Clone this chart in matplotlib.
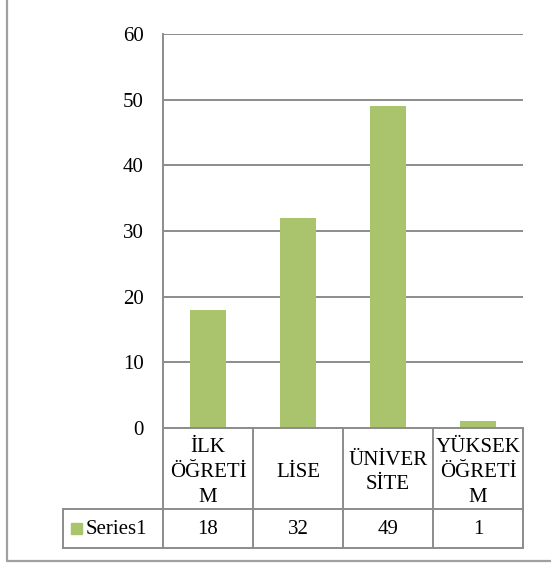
import matplotlib
matplotlib.use("Agg")
import matplotlib.pyplot as plt
from matplotlib.patches import Rectangle

categories = ["İLK\nÖĞRETİ\nM", "LİSE", "ÜNİVER\nSİTE", "YÜKSEK\nÖĞRETİ\nM"]
values = [18, 32, 49, 1]
series_name = "Series1"
yticks = [0, 10, 20, 30, 40, 50, 60]

W, H = 551, 564
BAR = "#A9C46C"
GRID = "#8C8C8C"
FONT = "Liberation Serif"
FS = 15

plt.rcParams['font.family'] = [FONT, 'DejaVu Serif']

fig = plt.figure(figsize=(W / 100, H / 100), dpi=100)

# plot area in pixels
px_l, px_r, px_t, px_b = 163, 523, 34, 428
ax = fig.add_axes([px_l / W, (H - px_b) / H, (px_r - px_l) / W, (px_b - px_t) / H])
n = len(categories)
ax.bar(range(n), values, width=0.4, color=BAR, zorder=3)
ax.set_xlim(-0.5, n - 0.5)
ax.set_ylim(0, 60)
ax.set_yticks(yticks)
ax.set_yticklabels([str(t) for t in yticks], fontsize=FS)
ax.tick_params(axis='y', length=0, pad=14)
ax.set_xticks([])
ax.grid(axis='y', color=GRID, linewidth=1.4, zorder=0)
for s in ['top', 'right', 'bottom']:
    ax.spines[s].set_visible(False)
ax.spines['left'].set_color(GRID)
ax.spines['left'].set_linewidth(1.4)

# overlay for table / frame in pixel coordinates
ov = fig.add_axes([0, 0, 1, 1], facecolor='none')
ov.set_xlim(0, W)
ov.set_ylim(H, 0)
ov.axis('off')

lw = 1.4
colw = (px_r - px_l) / n
row1_b = 509
row2_b = 548
leg_l = 63

# outer frame
ov.plot([6.5, 6.5, W + 5], [-5, 561, 561], color="#A0A0A0", lw=1.6)

# horizontal lines
ov.plot([px_l, px_r], [px_b, px_b], color=GRID, lw=lw)
ov.plot([leg_l, px_r], [row1_b, row1_b], color=GRID, lw=lw)
ov.plot([leg_l, px_r], [row2_b, row2_b], color=GRID, lw=lw)
# vertical lines
ov.plot([leg_l, leg_l], [row1_b, row2_b], color=GRID, lw=lw)
for i in range(n + 1):
    x = px_l + i * colw
    ov.plot([x, x], [px_b, row2_b], color=GRID, lw=lw)

# category labels and values
for i, (c, v) in enumerate(zip(categories, values)):
    cx = px_l + (i + 0.5) * colw
    ov.text(cx, (px_b + row1_b) / 2 + 4, c, ha='center', va='center',
            fontsize=FS, linespacing=1.42, multialignment='center')
    ov.text(cx, (row1_b + row2_b) / 2 + 1, str(v), ha='center', va='center', fontsize=FS)

# legend key
ov.add_patch(Rectangle((71, 523), 11, 11, color=BAR))
ov.text(86, (row1_b + row2_b) / 2 + 1, series_name, ha='left', va='center', fontsize=FS)

fig.savefig("out.png", dpi=100)
